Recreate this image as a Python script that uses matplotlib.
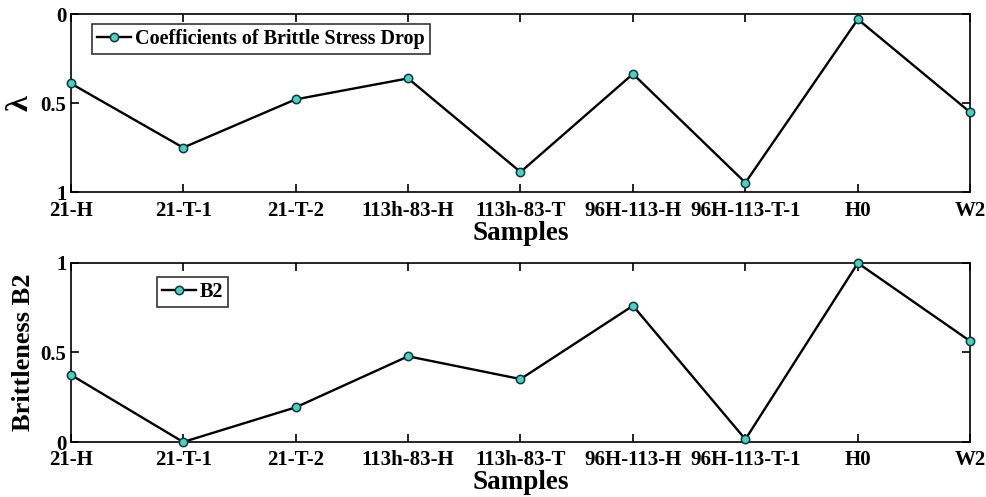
import numpy as np
import matplotlib
matplotlib.use("Agg")
from matplotlib import pyplot as plt

samples = ["21-H", "21-T-1", "21-T-2", "113h-83-H", "113h-83-T",
           "96H-113-H", "96H-113-T-1", "H0", "W2"]
lam = [0.388, 0.749, 0.478, 0.360, 0.886, 0.335, 0.946, 0.028, 0.551]
b2 = [0.375, 0.0, 0.193, 0.478, 0.351, 0.760, 0.015, 0.998, 0.562]
yticks = [0, 0.5, 1]
ytick_labels = ["0", "0.5", "1"]

plt.rcParams['font.family'] = ['Liberation Serif', 'DejaVu Serif']
plt.rcParams['font.weight'] = 'bold'

fig = plt.figure(figsize=(9.87, 4.97), dpi=100)
W, H = 987, 497
ax1 = fig.add_axes([70.7 / W, (H - 192.3) / H, (970.3 - 70.7) / W, (192.3 - 14.3) / H])
ax2 = fig.add_axes([70.7 / W, (H - 442) / H, (970.3 - 70.7) / W, (442 - 262.7) / H])

x = np.arange(len(samples))
cyan = "#45d2c8"

ax1.plot(x, lam, '-o', color='black', lw=1.7, markersize=6,
         markerfacecolor=cyan, markeredgecolor='#153535', markeredgewidth=1.1,
         label="Coefficients of Brittle Stress Drop", clip_on=False, zorder=5)
ax1.set_ylim(1, 0)
ax1.set_ylabel("λ", fontsize=23, fontweight='bold', labelpad=4)

ax2.plot(x, b2, '-o', color='black', lw=1.7, markersize=6,
         markerfacecolor=cyan, markeredgecolor='#153535', markeredgewidth=1.1,
         label="B2", clip_on=False, zorder=5)
ax2.set_ylim(0, 1)
ax2.set_ylabel("Brittleness B2", fontsize=19, fontweight='bold', labelpad=4)

for ax in (ax1, ax2):
    ax.set_xlim(0, len(samples) - 1)
    ax.set_xticks(x)
    ax.set_xticklabels(samples, fontsize=15, fontweight='bold')
    ax.set_yticks(yticks)
    ax.set_yticklabels(ytick_labels, fontsize=15, fontweight='bold')
    ax.tick_params(axis='x', direction='in', top=True, length=6, width=1.2, pad=6)
    ax.tick_params(axis='y', direction='in', right=True, length=6, width=1.2, pad=3)
    ax.set_xlabel("Samples", fontsize=19.5, fontweight='bold', labelpad=0)
    for s in ax.spines.values():
        s.set_linewidth(1.2)

leg1 = ax1.legend(loc='upper left', bbox_to_anchor=(0.0233, 0.945), fontsize=14.5,
                  frameon=True, fancybox=False, edgecolor='black', handlelength=1.7,
                  handletextpad=0.2, borderpad=0.25, borderaxespad=0)
leg1.get_frame().set_linewidth(1.2)
leg2 = ax2.legend(loc='upper left', bbox_to_anchor=(0.0955, 0.92), fontsize=14.5,
                  frameon=True, fancybox=False, edgecolor='black', handlelength=1.7,
                  handletextpad=0.2, borderpad=0.25, borderaxespad=0)
leg2.get_frame().set_linewidth(1.2)

fig.savefig("out.png", dpi=100)
